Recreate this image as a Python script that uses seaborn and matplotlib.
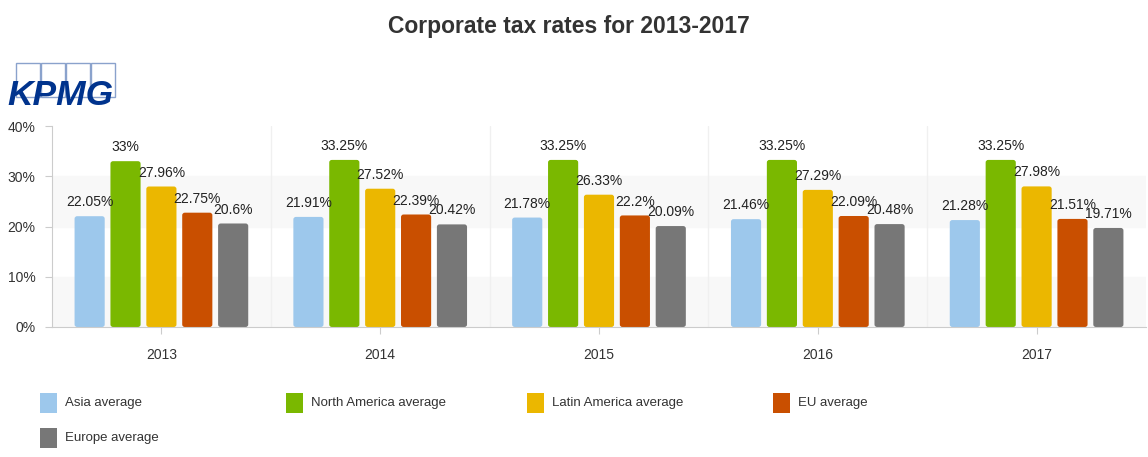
import numpy as np
import pandas as pd
import seaborn as sns
import matplotlib.pyplot as plt
from matplotlib.patches import Rectangle, FancyBboxPatch

years = ['2013', '2014', '2015', '2016', '2017']
regions = ['Asia average', 'North America average', 'Latin America average', 'EU average', 'Europe average']
asia = [22.05, 21.91, 21.78, 21.46, 21.28]
north_america = [33.0, 33.25, 33.25, 33.25, 33.25]
latin_america = [27.96, 27.52, 26.33, 27.29, 27.98]
eu = [22.75, 22.39, 22.2, 22.09, 21.51]
europe = [20.6, 20.42, 20.09, 20.48, 19.71]
colors = ['#9dc8ec', '#7ab800', '#ebb700', '#c94f00', '#777777']

# long format for seaborn
rows = []
for region, vals in zip(regions, [asia, north_america, latin_america, eu, europe]):
    for y, v in zip(years, vals):
        rows.append({'Year': y, 'Region': region, 'Rate': v})
df = pd.DataFrame(rows)

sns.set_style('white')
plt.rcParams['font.family'] = ['Liberation Sans', 'DejaVu Sans']

fig = plt.figure(figsize=(11.48, 4.57), dpi=100)
ax = fig.add_axes([52 / 1148, 1 - 327 / 457, 1094 / 1148, 201 / 457])

# alternating bands and category separators
ax.axhspan(0, 10, color='#f8f8f8', zorder=0)
ax.axhspan(20, 30, color='#f8f8f8', zorder=0)
for xs in np.arange(0.5, 4.5, 1):
    ax.axvline(xs, color='#f0f0f0', lw=1, zorder=0)

sns.barplot(data=df, x='Year', y='Rate', hue='Region', palette=colors, saturation=1,
            width=0.82, gap=0.16, legend=False, ax=ax, zorder=2)

for cont in ax.containers:
    ax.bar_label(cont, labels=[f'{v:g}%' for v in cont.datavalues],
                 padding=5, fontsize=10, color='#222222')

# rounded bar corners
for p in list(ax.patches):
    if not isinstance(p, Rectangle) or p.get_height() <= 0 or p.get_width() > 0.5:
        continue
    x, y0 = p.get_x(), p.get_y()
    w, h = p.get_width(), p.get_height()
    fb = FancyBboxPatch((x, y0), w, h,
                        boxstyle='round,pad=0,rounding_size=0.012',
                        mutation_aspect=42, facecolor=p.get_facecolor(),
                        edgecolor='none', zorder=2)
    p.set_visible(False)
    ax.add_patch(fb)

ax.set_xlim(-0.5, 4.5)
ax.set_ylim(0, 40)
ax.set_yticks([0, 10, 20, 30, 40])
ax.set_yticklabels([f'{t}%' for t in [0, 10, 20, 30, 40]])
ax.set_xlabel('')
ax.set_ylabel('')
for s in ['top', 'right']:
    ax.spines[s].set_visible(False)
for s in ['left', 'bottom']:
    ax.spines[s].set_color('#cccccc')
ax.tick_params(axis='both', which='both', length=5, color='#cccccc',
               labelsize=10, labelcolor='#333333')
ax.tick_params(axis='x', pad=10)
ax.tick_params(axis='y', pad=7, left=True)
ax.tick_params(axis='x', bottom=True)

fig.text(569 / 1148, 1 - 27 / 457, 'Corporate tax rates for 2013-2017', ha='center', va='center',
         fontsize=16.5, fontweight='bold', color='#333333')

# KPMG logo
for i in range(4):
    fig.patches.append(Rectangle(((16 + i * 25) / 1148, 1 - 97 / 457), 24 / 1148, 34 / 457,
                                 transform=fig.transFigure, facecolor='none',
                                 edgecolor='#8aa2cc', lw=1))
fig.text(7 / 1148, 1 - 96 / 457, 'KPMG', ha='left', va='center', fontsize=25.5,
         fontweight='bold', fontstyle='italic', color='#00338d')

# legend
leg_x = [40, 286, 527, 773, 40]
leg_y = [403, 403, 403, 403, 438]
for r, c, lx, ly in zip(regions, colors, leg_x, leg_y):
    fig.patches.append(Rectangle((lx / 1148, 1 - (ly + 10) / 457), 17 / 1148, 20 / 457,
                                 transform=fig.transFigure, facecolor=c, edgecolor='none'))
    fig.text((lx + 25) / 1148, 1 - ly / 457, r, ha='left', va='center',
             fontsize=9.5, color='#333333')

fig.savefig('out.png', dpi=100)
